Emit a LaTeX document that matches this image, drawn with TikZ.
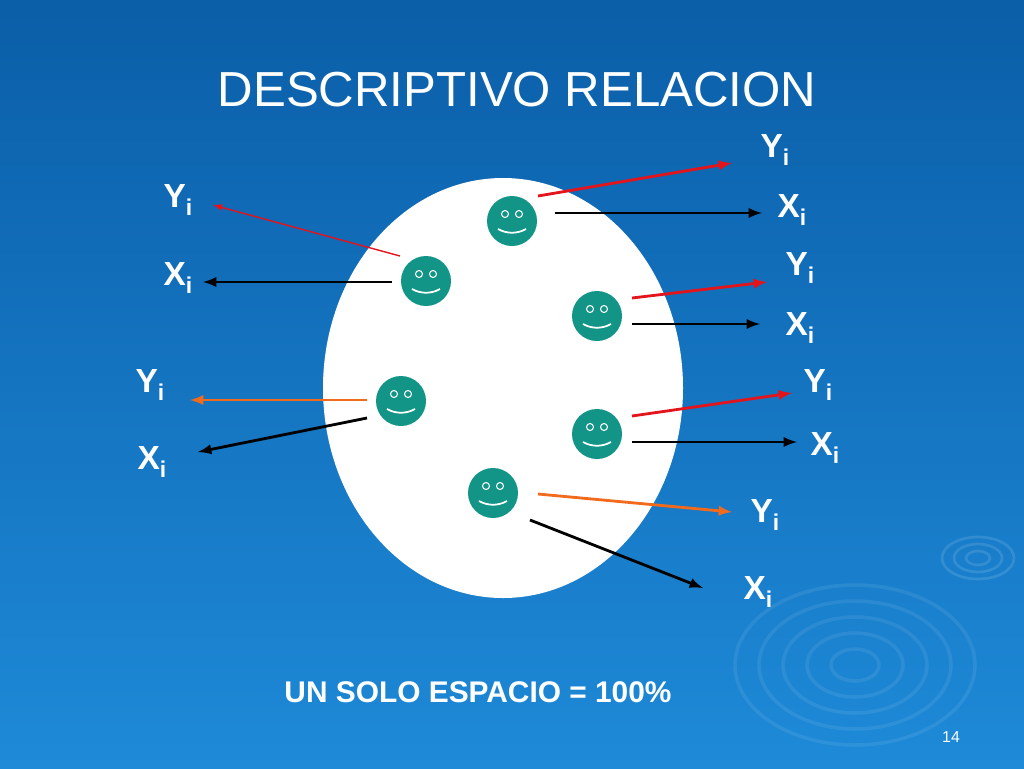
\documentclass[tikz,border=0pt]{standalone}
\usepackage{fontspec}
\setmainfont{Liberation Sans}
\definecolor{bgtop}{HTML}{0B5EA8}
\definecolor{bgbot}{HTML}{1E8AD8}
\definecolor{face}{HTML}{129487}
\definecolor{redarr}{HTML}{E3141B}
\definecolor{orarr}{HTML}{F26B1D}
\newcommand{\sub}[1]{#1\raisebox{-0.45ex}{\fontsize{13}{13}\selectfont i}}
\tikzset{
  lbl/.style={text=white, font=\bfseries\fontsize{19}{19}\selectfont},
  smiley/.style={circle, fill=face, minimum size=50*0.02cm, inner sep=0pt},
  arr/.style={-latex, line width=1.6pt},
}
\begin{document}
\begin{tikzpicture}[x=0.02cm, y=-0.02cm]
\shade[top color=bgtop, bottom color=bgbot] (0,0) rectangle (1024,768);
\useasboundingbox (0,0) rectangle (1024,768);
% ripples
\foreach \r in {20,40,60,80,100} \draw[white, opacity=0.08, line width=2pt] (855,665) ellipse ({\r*1.2} and {\r*0.8});
\foreach \r in {10,20,30} \draw[white, opacity=0.12, line width=1.5pt] (978,558) ellipse ({\r*1.2} and {\r*0.7});
\node[lbl, font=\fontsize{28}{28}\selectfont] (title) at (517,90) {DESCRIPTIVO RELACION};
\fill[white] (503,388) ellipse (180 and 210);
% faces
\foreach \n/\x/\y in {a/512/221, b/426/281, c/597/316, d/401/401, e/597/434, f/493/493}{
  \node[smiley] (\n) at (\x,\y) {};
  \draw[white, line width=0.6pt] (\x-7,\y-7) circle (3.5) (\x+7,\y-7) circle (3.5);
  \draw[white, line width=1pt] (\x-14,\y+8) .. controls (\x-5,\y+13) and (\x+5,\y+13) .. (\x+14,\y+8);
}
% labels
\node[lbl] (ya) at (775,150) {\sub{Y}};
\node[lbl] (xa) at (792,210) {\sub{X}};
\node[lbl] (yc) at (800,268) {\sub{Y}};
\node[lbl] (xc) at (800,328) {\sub{X}};
\node[lbl] (ye) at (818,385) {\sub{Y}};
\node[lbl] (xe) at (825,448) {\sub{X}};
\node[lbl] (yf) at (765,515) {\sub{Y}};
\node[lbl] (xf) at (758,592) {\sub{X}};
\node[lbl] (yb) at (178,200) {\sub{Y}};
\node[lbl] (xb) at (178,278) {\sub{X}};
\node[lbl] (yd) at (150,385) {\sub{Y}};
\node[lbl] (xd) at (152,462) {\sub{X}};
\node[text=white, font=\bfseries\fontsize{17}{17}\selectfont] (total) at (478,692) {UN SOLO ESPACIO = 100\%};
\node[text=white, font=\fontsize{9}{9}\selectfont] (page) at (951,737) {14};
% arrows
\draw[arr, redarr] (538,196) -- (732,163);
\draw[arr, black] (555,213) -- (762,213);
\draw[arr, redarr] (632,298) -- (767,282);
\draw[arr, black] (632,324) -- (760,324);
\draw[arr, redarr] (632,416) -- (792,393);
\draw[arr, black] (632,442) -- (797,442);
\draw[arr, orarr] (538,494) -- (732,512);
\draw[arr, black] (530,520) -- (703,588);
\draw[-latex, redarr, line width=0.8pt] (400,256) -- (213,205);
\draw[arr, black] (392,282) -- (203,282);
\draw[arr, orarr] (367,400) -- (190,400);
\draw[arr, black] (367,418) -- (198,452);
\end{tikzpicture}
\end{document}
